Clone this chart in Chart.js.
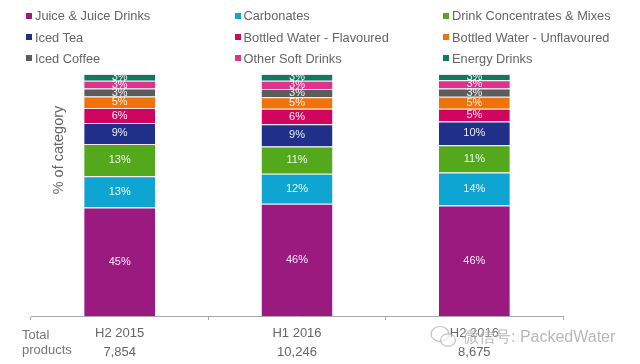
<!DOCTYPE html>
<html>
<head>
<meta charset="utf-8">
<script src="https://cdn.jsdelivr.net/npm/chart.js@4"></script>
<style>
    html, body { margin: 0; padding: 0; background: #fff; }
    #wrap { position: relative; width: 640px; height: 364px; overflow: hidden; font-family: "Liberation Sans", Arial, sans-serif; }
    #legend { position: absolute; left: 26px; top: 5px; display: grid; grid-template-columns: 208.5px 208.5px 190px; grid-auto-rows: 21.4px; color: #666; font-size: 12.8px; }
    .legend-node { display: flex; align-items: center; white-space: nowrap; }
    .legend-dot { width: 6px; height: 6px; margin-right: 3px; flex: none; }
    #total-label { position: absolute; left: 22px; top: 327px; color: #777; font-size: 13px; line-height: 15.4px; }
    #watermark { position: absolute; left: 430px; top: 325px; display: flex; align-items: center; color: #9a9a9a; opacity: 0.7; font-size: 16px; text-shadow: 0 0 2px #fff, 0 0 2px #fff; white-space: nowrap; }
    #watermark svg { margin-right: 6px; }
</style>
</head>
<body>
<div id="wrap">
    <canvas id="chart" width="640" height="364"></canvas>
    <div id="legend"></div>
    <div id="total-label">Total<br>products</div>
    <div id="watermark">
        <svg width="27" height="24" viewBox="0 0 27 24" fill="rgba(255,255,255,0.6)" stroke="#aaa" stroke-width="1.2">
            <ellipse cx="10" cy="9" rx="9" ry="7.5"/>
            <ellipse cx="18" cy="15" rx="7.5" ry="6.2"/>
        </svg>
        <span>微信号: PackedWater</span>
    </div>
</div>
<script>
const periods = ['H2 2015', 'H1 2016', 'H2 2016'];
const totals = ['7,854', '10,246', '8,675'];

const juice = [44.8, 46.4, 45.7];
const carbonates = [12.9, 12.4, 13.6];
const concentrates = [13.4, 11.2, 11.3];
const icedTea = [8.7, 9.2, 9.8];
const waterFlavoured = [6.1, 6.4, 5.2];
const waterUnflavoured = [4.8, 4.8, 5.0];
const icedCoffee = [3.3, 3.4, 3.4];
const otherSoft = [3.2, 3.4, 3.4];
const energy = [2.8, 2.8, 2.6];

const seriesNames = ['Juice & Juice Drinks', 'Carbonates', 'Drink Concentrates & Mixes', 'Iced Tea', 'Bottled Water - Flavoured', 'Bottled Water - Unflavoured', 'Iced Coffee', 'Other Soft Drinks', 'Energy Drinks'];
const seriesValues = [juice, carbonates, concentrates, icedTea, waterFlavoured, waterUnflavoured, icedCoffee, otherSoft, energy];
const seriesColors = ['#9b1a80', '#0ea5d2', '#53a81c', '#1f2f8a', '#d0055f', '#f0720a', '#5c5c5c', '#e0328c', '#0d7a5f'];

// legend reads across, three to a row
const legendTarget = document.getElementById('legend');
seriesNames.forEach((name, i) => {
    legendTarget.innerHTML += `<div class="legend-node"><div class="legend-dot" style="background:${seriesColors[i]}"></div><span>${name}</span></div>`;
});

const segmentLabels = {
    id: 'segmentLabels',
    afterDatasetsDraw(chart) {
        const ctx = chart.ctx;
        ctx.save();
        ctx.font = '11px "Liberation Sans", Arial, sans-serif';
        ctx.fillStyle = 'rgba(255,255,255,0.92)';
        ctx.textAlign = 'center';
        ctx.textBaseline = 'middle';
        chart.data.datasets.forEach((ds, i) => {
            chart.getDatasetMeta(i).data.forEach((bar, j) => {
                const mid = bar.getCenterPoint();
                ctx.fillText(Math.round(ds.data[j]) + '%', mid.x, mid.y);
            });
        });
        ctx.restore();
    }
};

const axisCaption = {
    id: 'axisCaption',
    afterDraw(chart) {
        const ctx = chart.ctx;
        ctx.save();
        ctx.translate(59, 150);
        ctx.rotate(-Math.PI / 2);
        ctx.font = '14.5px "Liberation Sans", Arial, sans-serif';
        ctx.fillStyle = '#666';
        ctx.textAlign = 'center';
        ctx.textBaseline = 'middle';
        ctx.fillText('% of category', 0, 0);
        ctx.restore();
    }
};

new Chart(document.getElementById('chart').getContext('2d'), {
    type: 'bar',
    data: {
        labels: periods.map((p, i) => [p, totals[i]]),
        datasets: seriesNames.map((name, i) => ({
            label: name,
            data: seriesValues[i],
            backgroundColor: seriesColors[i],
            borderColor: '#f4e6ee',
            borderWidth: { top: 1 },
            borderSkipped: false,
            categoryPercentage: 1,
            barPercentage: 0.4
        }))
    },
    options: {
        responsive: false,
        animation: false,
        layout: { padding: { left: 31, right: 77, top: 74, bottom: 0 } },
        plugins: { legend: { display: false }, tooltip: { enabled: false } },
        scales: {
            x: {
                stacked: true,
                afterFit(scale) { scale.height = 48; },
                grid: { drawOnChartArea: false, tickLength: 4, color: '#aaa' },
                border: { color: '#aaa' },
                ticks: {
                    color: '#666',
                    padding: 4,
                    maxRotation: 0,
                    autoSkip: false,
                    font: { family: '"Liberation Sans", Arial, sans-serif', size: 13, lineHeight: 1.46 }
                }
            },
            y: { stacked: true, display: false, min: 0, max: 100 }
        }
    },
    plugins: [segmentLabels, axisCaption]
});
</script>
</body>
</html>
